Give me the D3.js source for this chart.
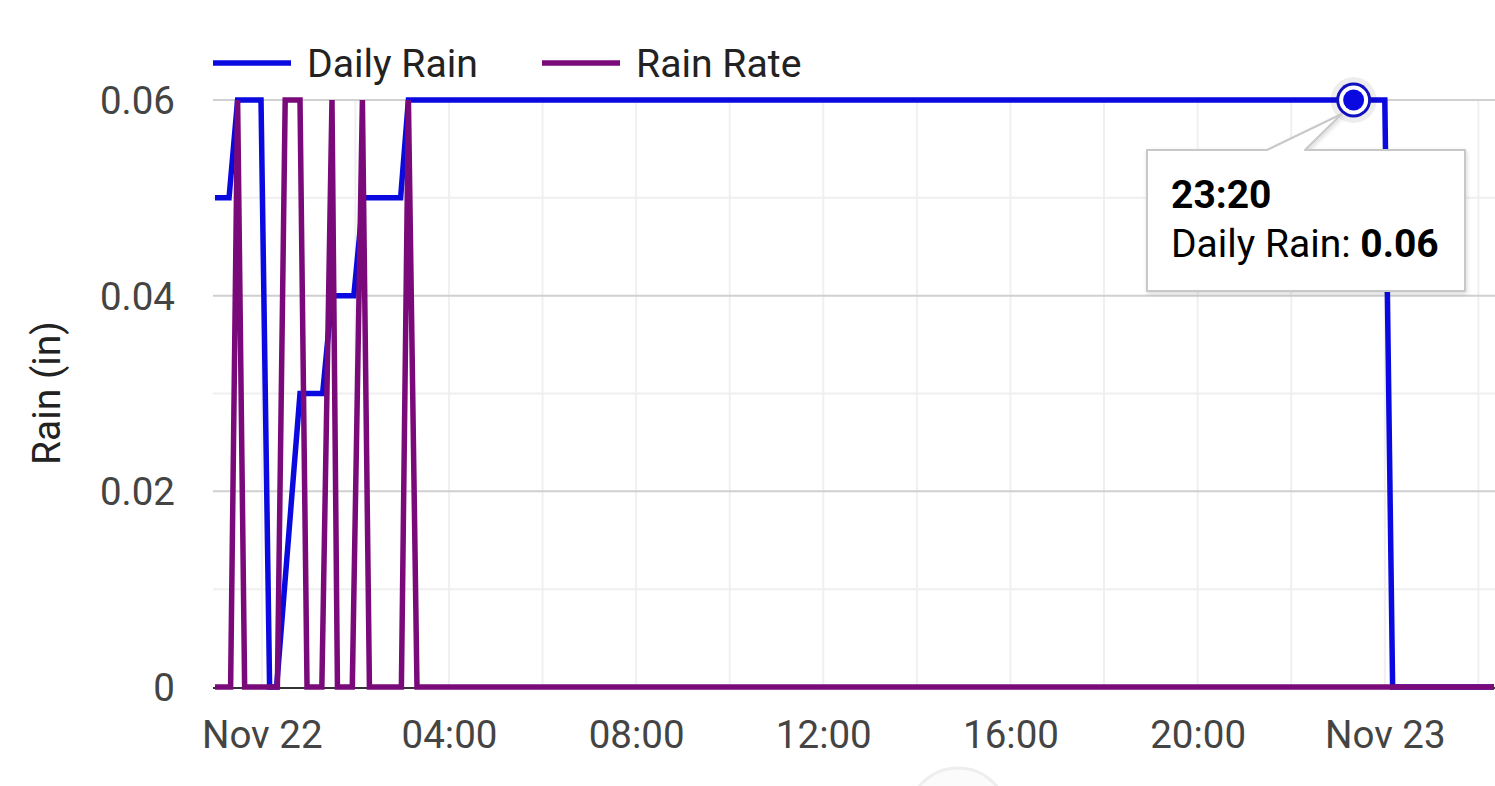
<!DOCTYPE html>
<html lang="en">
<head>
<meta charset="utf-8">
<title>Rain chart</title>
<script src="https://d3js.org/d3.v7.min.js"></script>
<style>
  body { margin: 0; background: #fff; }
  svg { display: block; font-family: Roboto, "Noto Sans", sans-serif; }
</style>
</head>
<body>
<script>
// series data (local time)
var dailyTimes = ["2023-11-21 23:00", "2023-11-21 23:18", "2023-11-21 23:29", "2023-11-21 23:59",
                  "2023-11-22 00:10", "2023-11-22 00:19", "2023-11-22 00:49", "2023-11-22 01:18",
                  "2023-11-22 01:30", "2023-11-22 01:58", "2023-11-22 02:10", "2023-11-22 02:58",
                  "2023-11-22 03:08", "2023-11-22 23:20", "2023-11-23 00:00", "2023-11-23 00:10",
                  "2023-11-23 02:20"];
var dailyRain  = [0.05, 0.05, 0.06, 0.06, 0, 0, 0.03, 0.03, 0.04, 0.04, 0.05, 0.05, 0.06, 0.06, 0.06, 0, 0];

var rateTimes = ["2023-11-21 23:00", "2023-11-21 23:20", "2023-11-21 23:29", "2023-11-21 23:38",
                 "2023-11-22 00:20", "2023-11-22 00:30", "2023-11-22 00:49", "2023-11-22 00:58",
                 "2023-11-22 01:17", "2023-11-22 01:30", "2023-11-22 01:37", "2023-11-22 01:56",
                 "2023-11-22 02:09", "2023-11-22 02:18", "2023-11-22 02:59", "2023-11-22 03:08",
                 "2023-11-22 03:19", "2023-11-23 02:20"];
var rainRate  = [0, 0, 0.06, 0, 0, 0.06, 0.06, 0, 0, 0.06, 0, 0, 0.06, 0, 0, 0.06, 0, 0];

var seriesNames = ["Daily Rain", "Rain Rate"];
var seriesColors = ["#0a0ae0", "#7a0a7a"];
var yTicks = [0, 0.02, 0.04, 0.06];
var yMinor = [0.01, 0.03, 0.05];
var tooltipTime = "2023-11-22 23:20";
var tooltipValue = 0.06;

var w = 1495, h = 786;
var parse = d3.timeParse("%Y-%m-%d %H:%M");
var daily = dailyTimes.map(function(t, i) { return {t: parse(t), v: dailyRain[i]}; });
var rate = rateTimes.map(function(t, i) { return {t: parse(t), v: rainRate[i]}; });

var xScale = d3.scaleTime()
  .domain([parse("2023-11-21 23:00"), parse("2023-11-23 02:20")])
  .range([215, 1494]);
var yScale = d3.scaleLinear().domain([0, 0.06]).range([687, 100]);

var svg = d3.select("body").append("svg").attr("width", w).attr("height", h);

// faint button at bottom
svg.append("circle").attr("cx", 958).attr("cy", 818).attr("r", 50)
  .attr("fill", "#fbfbfb").attr("stroke", "#eeeeee").attr("stroke-width", 3);

// vertical grid, every 2 hours
var vGrid = d3.timeHour.every(2).range(parse("2023-11-22 00:00"), parse("2023-11-23 02:01"));
svg.append("g").selectAll("line").data(vGrid).enter().append("line")
  .attr("x1", function(d) { return xScale(d); }).attr("x2", function(d) { return xScale(d); })
  .attr("y1", 100).attr("y2", 687)
  .attr("stroke", "#f0f0f0").attr("stroke-width", 2);

// horizontal grid
svg.append("g").selectAll("line").data(yMinor).enter().append("line")
  .attr("x1", 213).attr("x2", w)
  .attr("y1", function(d) { return yScale(d); }).attr("y2", function(d) { return yScale(d); })
  .attr("stroke", "#efefef").attr("stroke-width", 2);
svg.append("g").selectAll("line").data(yTicks.slice(1)).enter().append("line")
  .attr("x1", 213).attr("x2", w)
  .attr("y1", function(d) { return yScale(d); }).attr("y2", function(d) { return yScale(d); })
  .attr("stroke", "#d0d0d0").attr("stroke-width", 2);

// x axis line
svg.append("line").attr("x1", 213).attr("x2", w).attr("y1", 688).attr("y2", 688)
  .attr("stroke", "#333").attr("stroke-width", 2);

// y axis labels
var yAxis = d3.axisLeft(yScale).tickValues(yTicks).tickSize(0).tickPadding(0)
  .tickFormat(function(d) { return d === 0 ? "0" : d3.format(".2f")(d); });
var gy = svg.append("g").attr("transform", "translate(175,0)").call(yAxis);
gy.select(".domain").remove();
gy.selectAll("text").attr("font-size", 38.5).attr("font-family", "Roboto").attr("fill", "#444").attr("dy", "0.35em");

// x axis labels
var xTicks = d3.timeHour.every(4).range(parse("2023-11-22 00:00"), parse("2023-11-23 00:01"));
var xAxis = d3.axisBottom(xScale).tickValues(xTicks).tickSize(0).tickPadding(0)
  .tickFormat(function(d) { return d.getHours() === 0 ? d3.timeFormat("%b %d")(d) : d3.timeFormat("%H:%M")(d); });
var gx = svg.append("g").attr("transform", "translate(0,748)").call(xAxis);
gx.select(".domain").remove();
gx.selectAll("text").attr("font-size", 38.5).attr("font-family", "Roboto").attr("fill", "#444").attr("dy", 0);

// y axis title
svg.append("text").attr("transform", "translate(60,393) rotate(-90)")
  .attr("text-anchor", "middle").attr("font-size", 39).attr("fill", "#222")
  .text("Rain (in)");

// lines
var line = d3.line().x(function(d) { return xScale(d.t); }).y(function(d) { return yScale(d.v); });
svg.append("path").datum(daily).attr("d", line)
  .attr("fill", "none").attr("stroke", seriesColors[0]).attr("stroke-width", 5.5);
svg.append("path").datum(rate).attr("d", line)
  .attr("fill", "none").attr("stroke", seriesColors[1]).attr("stroke-width", 5.5);

// legend
var legendX = [213, 542];
seriesNames.forEach(function(name, i) {
  var g = svg.append("g").attr("transform", "translate(" + legendX[i] + ",63)");
  g.append("line").attr("x1", 0).attr("x2", 78).attr("stroke", seriesColors[i]).attr("stroke-width", 5.5);
  g.append("text").attr("x", 94).attr("dy", "0.35em").attr("font-size", 39.2).attr("fill", "#222").text(name);
});

// hover marker
var mx = xScale(parse(tooltipTime)), my = yScale(tooltipValue);
svg.append("circle").attr("cx", mx).attr("cy", my).attr("r", 23).attr("fill", "#000").attr("opacity", 0.07);
svg.append("circle").attr("cx", mx).attr("cy", my).attr("r", 17.5).attr("fill", "#1010c0");
svg.append("circle").attr("cx", mx).attr("cy", my).attr("r", 14.5).attr("fill", "#fff");
svg.append("circle").attr("cx", mx).attr("cy", my).attr("r", 10.5).attr("fill", seriesColors[0]);

// tooltip
var defs = svg.append("defs");
var f = defs.append("filter").attr("id", "shadow").attr("x", "-10%").attr("y", "-10%").attr("width", "130%").attr("height", "140%");
f.append("feDropShadow").attr("dx", 1).attr("dy", 2).attr("stdDeviation", 2).attr("flood-color", "#000").attr("flood-opacity", 0.15);
var tip = svg.append("g");
tip.append("path")
  .attr("d", "M1147,150 L1267,150 L" + (mx - 12) + "," + (my + 14) + " L1305,150 L1465,150 L1465,291 L1147,291 Z")
  .attr("fill", "#fff").attr("stroke", "#c8c8c8").attr("stroke-width", 2)
  .attr("stroke-linejoin", "round").attr("filter", "url(#shadow)");
tip.append("text").attr("x", 1171).attr("y", 208).attr("font-size", 39).attr("font-weight", "bold").attr("fill", "#000")
  .text(d3.timeFormat("%H:%M")(parse(tooltipTime)));
var t2 = tip.append("text").attr("x", 1171).attr("y", 257).attr("font-size", 39).attr("fill", "#000");
t2.append("tspan").text(seriesNames[0] + ": ");
t2.append("tspan").attr("font-weight", "bold").text(d3.format(".2f")(tooltipValue));
</script>
</body>
</html>
